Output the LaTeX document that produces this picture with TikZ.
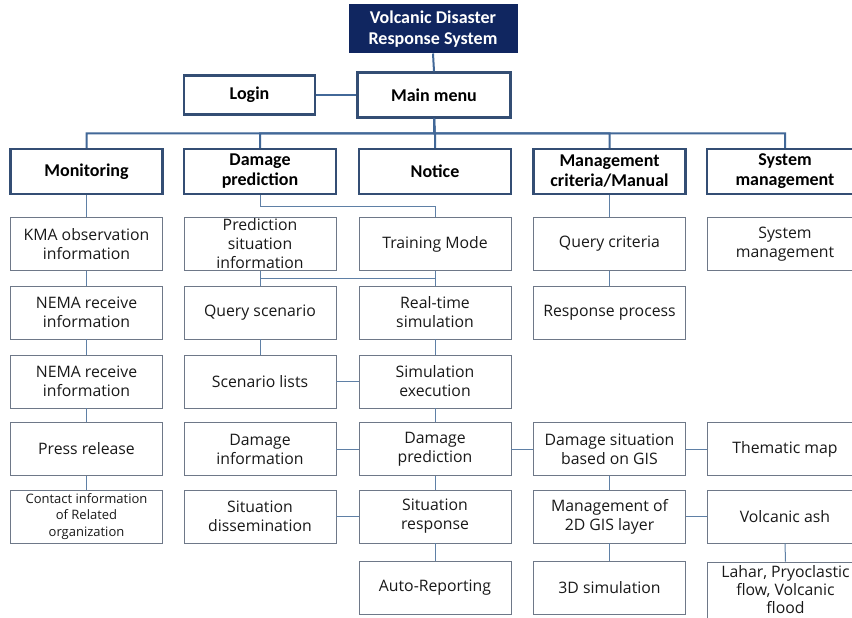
\documentclass[tikz,border=0pt]{standalone}
\usepackage{fontspec}
\setmainfont{Open Sans}
\newfontfamily\hdfont{Carlito}
\usetikzlibrary{calc}
\definecolor{navy}{RGB}{16,38,96}
\definecolor{lvlborder}{RGB}{52,78,116}
\definecolor{busline}{RGB}{66,104,152}
\definecolor{subborder}{RGB}{110,120,136}
\definecolor{linkline}{RGB}{95,128,166}
\definecolor{txt}{RGB}{25,25,25}
\tikzset{
  topbox/.style={fill=navy, draw=navy, line width=1pt, text=white,
    font=\hdfont\bfseries\fontsize{18}{21}\selectfont, align=center,
    minimum width=168pt, minimum height=48pt, inner sep=0pt},
  lvlbox/.style={draw=lvlborder, line width=2.4pt, fill=white,
    font=\hdfont\bfseries\fontsize{18}{20}\selectfont, align=center,
    minimum width=152pt, minimum height=45pt, inner sep=0pt, text=black},
  subbox/.style={draw=subborder, line width=0.9pt, fill=white,
    font=\fontsize{15.8}{19}\selectfont, align=center,
    minimum width=152pt, minimum height=53pt, inner sep=0pt, text=txt},
  busl/.style={draw=busline, line width=2pt},
  linkl/.style={draw=linkline, line width=1pt}
}
\begin{document}
\begin{tikzpicture}[x=1pt,y=-1pt]
\clip (0,0) rectangle (852,618);
\fill[white] (0,0) rectangle (852,618);
% top levels
\node[topbox] (top) at (433,29) {Volcanic Disaster\\Response System};
\node[lvlbox, minimum width=131pt, minimum height=39pt] (login) at (249.5,95) {Login};
\node[lvlbox, minimum width=153pt] (main) at (434,95) {Main menu};
\node[lvlbox] (mon) at (86.5,171.5) {Monitoring};
\node[lvlbox] (dp) at (260,171.5) {Damage\\prediction};
\node[lvlbox] (notice) at (435,171.5) {Notice};
\node[lvlbox] (mc) at (609.5,171.5) {Management\\criteria/Manual};
\node[lvlbox, minimum width=156pt] (sm) at (785,171.5) {System\\management};
% column 1
\node[subbox] (kma) at (86.5,244) {KMA observation\\information};
\node[subbox] (nema1) at (86.5,312.5) {NEMA receive\\information};
\node[subbox] (nema2) at (86.5,381.5) {NEMA receive\\information};
\node[subbox] (press) at (86.5,449) {Press release};
\node[subbox, font=\fontsize{13}{16.7}\selectfont] (contact) at (86.5,516.5) {Contact information\\of Related\\organization};
% column 2
\node[subbox] (pred) at (260,244) {Prediction\\situation\\information};
\node[subbox] (query) at (260,312.5) {Query scenario};
\node[subbox] (scen) at (260,381.5) {Scenario lists};
\node[subbox] (dinfo) at (260,449) {Damage\\information};
\node[subbox] (sdiss) at (260,516.5) {Situation\\dissemination};
% column 3
\node[subbox] (train) at (435,244) {Training Mode};
\node[subbox] (rts) at (435,312.5) {Real-time\\simulation};
\node[subbox] (simexec) at (435,381.5) {Simulation\\execution};
\node[subbox] (dpred) at (435,449) {Damage\\prediction};
\node[subbox] (sresp) at (435,516.5) {Situation\\response};
\node[subbox] (auto) at (435,587.5) {Auto-Reporting};
% column 4
\node[subbox] (qc) at (609.5,244) {Query criteria};
\node[subbox] (rp) at (609.5,312.5) {Response process};
\node[subbox] (dsgis) at (609.5,449) {Damage situation\\based on GIS};
\node[subbox] (m2d) at (609.5,516.5) {Management of\\2D GIS layer};
\node[subbox] (sim3d) at (609.5,587.5) {3D simulation};
% column 5
\node[subbox, minimum width=156pt] (sysm) at (785,244) {System\\management};
\node[subbox, minimum width=156pt] (thematic) at (785,449) {Thematic map};
\node[subbox, minimum width=156pt] (ash) at (785,516.5) {Volcanic ash};
\node[subbox, minimum width=156pt, minimum height=60pt] (lahar) at (785.5,592) {};
\node[font=\fontsize{15.8}{18}\selectfont, align=center, text=txt, inner sep=0pt] (lahartext) at (785.5,589.5) {Lahar, Pryoclastic\\flow, Volcanic\\flood};
% connectors: top
\draw[busl] (top.south) -- (main.north);
\draw[busl] (login.east) -- (main.west);
\coordinate (bus) at ($(main.south)!0.5!(notice.north)$);
\foreach \n in {mon,dp,notice,mc,sm}
  \draw[busl] (main.south) -- (bus) -| (\n.north);
% column 1
\draw[linkl] (mon.south) -- (kma.north);
\draw[linkl] (kma.south) -- (nema1.north);
\draw[linkl] (nema1.south) -- (nema2.north);
\draw[linkl] (nema2.south) -- (press.north);
\draw[linkl] (press.south) -- (contact.north);
% columns 2 and 3
\draw[linkl] (dp.south) |- ($(dp.south)!0.5!(train.north)$) -| (train.north);
\coordinate (j2) at ($(train.south)!0.5!(rts.north)$);
\draw[linkl] (train.south) -- (rts.north);
\draw[linkl] (pred.south) -- (query.north);
\draw[linkl] (j2) -| (query.north);
\draw[linkl] (query.south) -- (scen.north);
\draw[linkl] (scen.east) -- (simexec.west);
\draw[linkl] (rts.south) -- (simexec.north);
\draw[linkl] (simexec.south) -- (dpred.north);
\draw[linkl] (dpred.west) -- (dinfo.east);
\draw[linkl] (dpred.east) -- (dsgis.west);
\draw[linkl] (dpred.south) -- (sresp.north);
\draw[linkl] (sresp.west) -- (sdiss.east);
\draw[linkl] (sresp.south) -- (auto.north);
% column 4 and 5
\draw[linkl] (mc.south) -- (qc.north);
\draw[linkl] (qc.south) -- (rp.north);
\draw[linkl] (dsgis.south) -- (m2d.north);
\draw[linkl] (m2d.south) -- (sim3d.north);
\draw[linkl] (dsgis.east) -- (thematic.west);
\draw[linkl] (m2d.east) -- (ash.west);
\draw[linkl] (ash.south) -- (lahar.north);
\end{tikzpicture}
\end{document}
